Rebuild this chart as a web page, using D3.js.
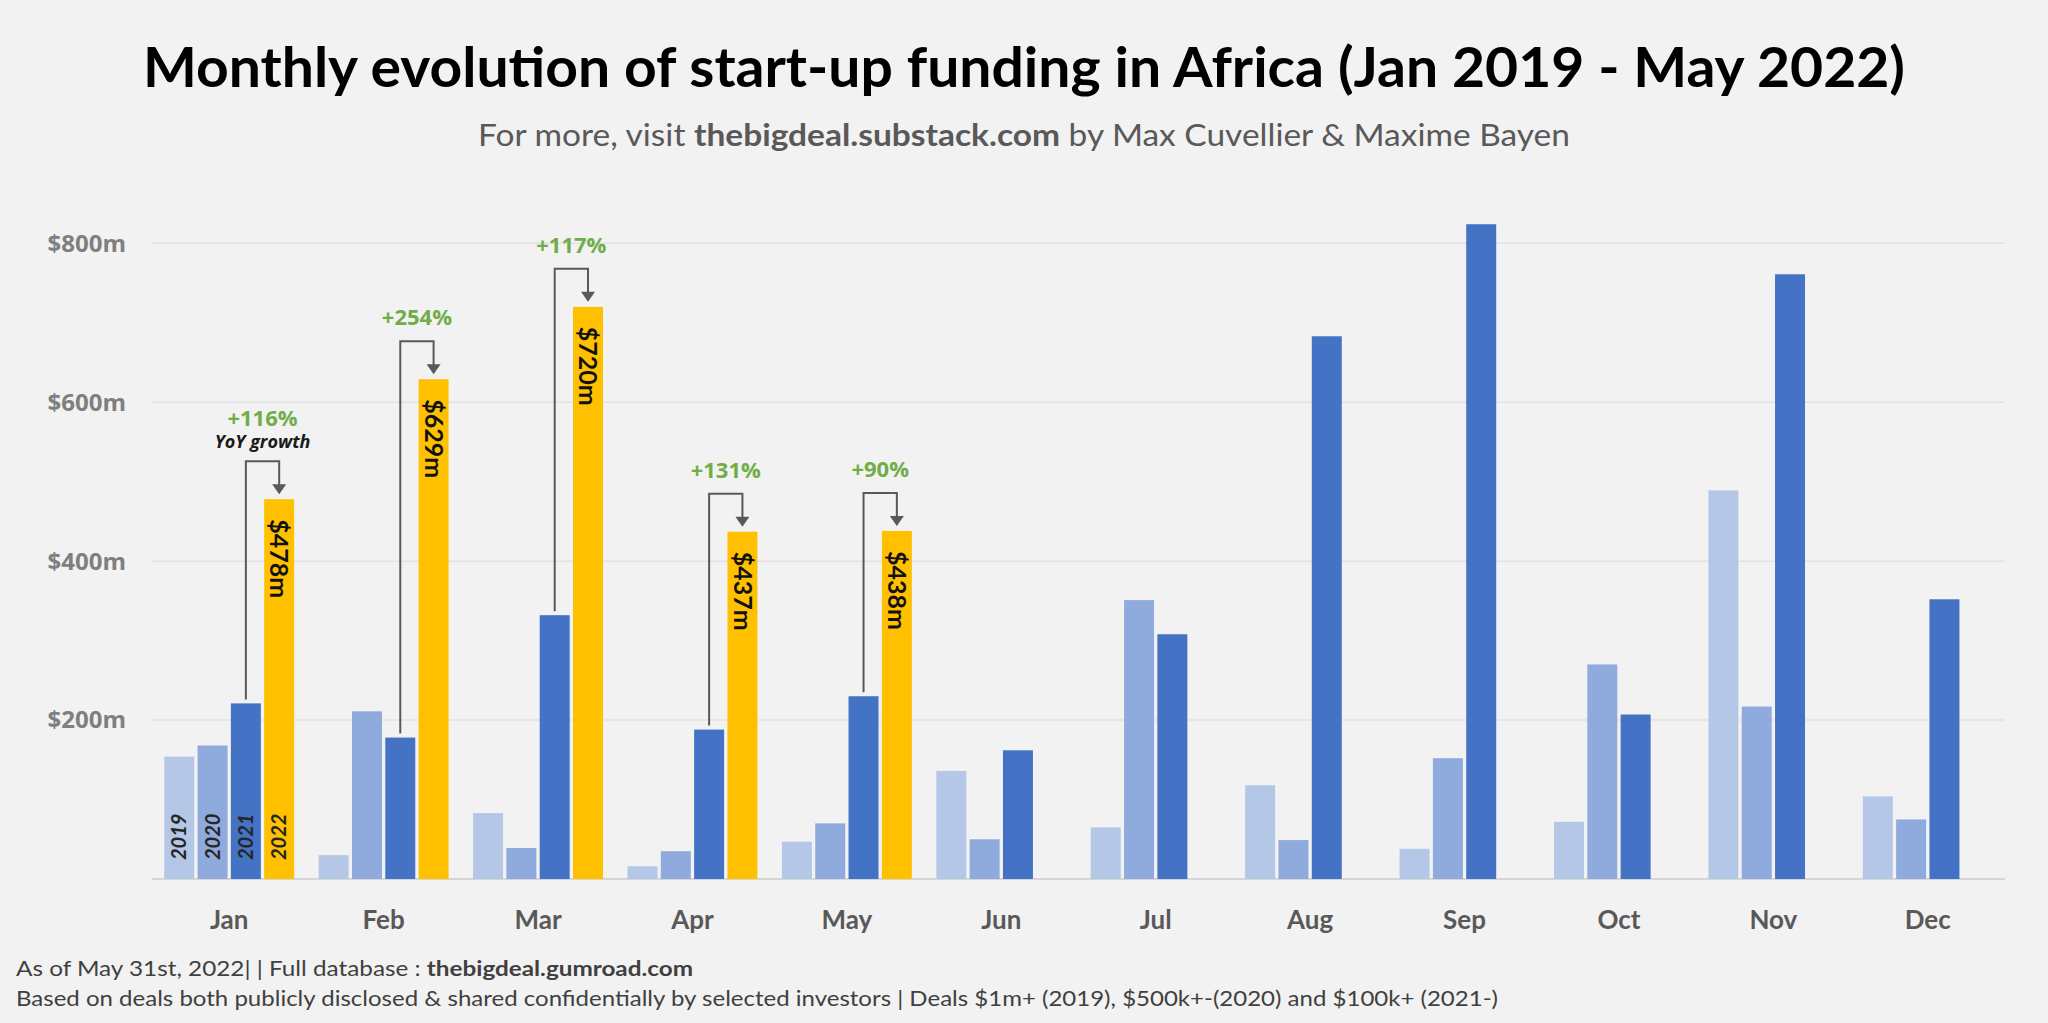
<!DOCTYPE html>
<html>
<head>
<meta charset="utf-8">
<script src="https://cdn.jsdelivr.net/npm/d3@7"></script>
<style>
  html, body { margin: 0; padding: 0; background: #f2f2f2; }
  svg { display: block; }
  text { font-family: Lato, "Open Sans", "Noto Sans", sans-serif; }
  text.os { font-family: "Open Sans", "Noto Sans", sans-serif; }
</style>
</head>
<body>
<svg id="chart" width="2048" height="1023"></svg>
<script>
// ---------- DATA ----------
const months = ["Jan","Feb","Mar","Apr","May","Jun","Jul","Aug","Sep","Oct","Nov","Dec"];
const years = ["2019","2020","2021","2022"];
const funding2019 = [154, 30, 83, 16, 47, 136, 65, 118, 38, 72, 489, 104];
const funding2020 = [168, 211, 39, 35, 70, 50, 351, 49, 152, 270, 217, 75];
const funding2021 = [221, 178, 332, 188, 230, 162, 308, 683, 824, 207, 761, 352];
const funding2022 = [478, 629, 720, 437, 438, null, null, null, null, null, null, null];
const valueLabels2022 = ["$478m", "$629m", "$720m", "$437m", "$438m"];
const growthLabels = ["+116%", "+254%", "+117%", "+131%", "+90%"];
const yTicks = [200, 400, 600, 800];
const yTickLabels = ["$200m", "$400m", "$600m", "$800m"];

const seriesByYear = { "2019": funding2019, "2020": funding2020, "2021": funding2021, "2022": funding2022 };
const colors = { "2019": "#b4c7e7", "2020": "#8faadc", "2021": "#4472c4", "2022": "#ffc000" };

// ---------- SETUP ----------
const svg = d3.select("#chart");
svg.append("rect").attr("width", 2048).attr("height", 1023).attr("fill", "#f2f2f2");

const x = d3.scaleBand().domain(months).range([152, 2005]).paddingInner(0.137).paddingOuter(0.0685);
const xi = d3.scaleBand().domain(years).range([0, x.bandwidth()]).paddingInner(0.1).paddingOuter(0.05);
const y = d3.scaleLinear().domain([0, 800]).range([879, 243.3]);

// ---------- TITLE ----------
const title = svg.append("text")
  .attr("x", 1024).attr("y", 87).attr("text-anchor", "middle")
  .attr("font-size", 55).attr("font-weight", 700).attr("fill", "#000")
  .text("Monthly evolution of start-up funding in Africa (Jan 2019 - May 2022)");
title.attr("textLength", 1762).attr("lengthAdjust", "spacingAndGlyphs");

const sub = svg.append("text")
  .attr("x", 1024).attr("y", 146).attr("text-anchor", "middle")
  .attr("font-size", 31).attr("fill", "#595959");
sub.append("tspan").text("For more, visit ");
sub.append("tspan").attr("font-weight", 700).text("thebigdeal.substack.com");
sub.append("tspan").text(" by Max Cuvellier & Maxime Bayen");
sub.attr("textLength", 1092).attr("lengthAdjust", "spacingAndGlyphs");

// ---------- GRID ----------
const gridG = svg.append("g");
gridG.selectAll("line.grid").data(yTicks).join("line")
  .attr("class", "grid")
  .attr("x1", 152).attr("x2", 2005)
  .attr("y1", d => y(d)).attr("y2", d => y(d))
  .attr("stroke", "#e2e2e2").attr("stroke-width", 1.5);

gridG.append("line")
  .attr("x1", 152).attr("x2", 2005).attr("y1", y(0)).attr("y2", y(0))
  .attr("stroke", "#d6d6d6").attr("stroke-width", 2);

// y labels
svg.append("g").selectAll("text").data(yTicks).join("text")
  .attr("class", "os")
  .attr("x", 126).attr("y", d => y(d)).attr("dy", "0.35em")
  .attr("text-anchor", "end").attr("font-size", 24).attr("font-weight", 700)
  .attr("fill", "#7f7f7f")
  .text((d, i) => yTickLabels[i]);

// month labels
svg.append("g").selectAll("text").data(months).join("text")
  .attr("x", d => x(d) + x.bandwidth() / 2).attr("y", 929)
  .attr("text-anchor", "middle").attr("font-size", 26).attr("font-weight", 700)
  .attr("fill", "#595959")
  .text(d => d);

// ---------- BARS ----------
const barsData = [];
months.forEach((m, i) => {
  years.forEach(yr => {
    const v = seriesByYear[yr][i];
    if (v !== null && v !== undefined) barsData.push({ month: m, idx: i, year: yr, value: v });
  });
});

svg.append("g").selectAll("rect").data(barsData).join("rect")
  .attr("x", d => x(d.month) + xi(d.year))
  .attr("y", d => y(d.value))
  .attr("width", xi.bandwidth())
  .attr("height", d => y(0) - y(d.value))
  .attr("fill", d => colors[d.year]);

// year labels inside January bars
svg.append("g").selectAll("text").data(years).join("text")
  .attr("transform", d => `translate(${x("Jan") + xi(d) + xi.bandwidth() / 2},${y(0) - 19}) rotate(-90)`)
  .attr("text-anchor", "start").attr("dy", "0.35em")
  .attr("font-size", 20).attr("font-weight", 700).attr("font-style", "italic")
  .attr("fill", "#262626")
  .text(d => d);

// 2022 value labels
const annMonths = months.slice(0, 5);
svg.append("g").selectAll("text").data(annMonths).join("text")
  .attr("transform", (m, i) => `translate(${x(m) + xi("2022") + xi.bandwidth() / 2},${y(funding2022[i]) + 20}) rotate(90)`)
  .attr("text-anchor", "start").attr("dy", "0.35em")
  .attr("font-size", 25).attr("font-weight", 700).attr("fill", "#111")
  .text((m, i) => valueLabels2022[i]);

// ---------- GROWTH ANNOTATIONS ----------
const annG = svg.append("g");
annMonths.forEach((m, i) => {
  const x1 = x(m) + xi("2021") + xi.bandwidth() / 2;
  const x2 = x(m) + xi("2022") + xi.bandwidth() / 2;
  const top22 = y(funding2022[i]);
  const top21 = y(funding2021[i]);
  const yTop = top22 - 38;
  annG.append("path")
    .attr("d", `M${x1},${top21 - 4}V${yTop}H${x2}V${top22 - 14}`)
    .attr("fill", "none").attr("stroke", "#595959").attr("stroke-width", 2);
  annG.append("path")
    .attr("d", `M${x2 - 7},${top22 - 15}L${x2 + 7},${top22 - 15}L${x2},${top22 - 5}Z`)
    .attr("fill", "#595959");
  const cx = (x1 + x2) / 2;
  if (i === 0) {
    annG.append("text").attr("class", "os").attr("x", cx).attr("y", yTop - 13).attr("text-anchor", "middle")
      .attr("font-size", 18).attr("font-weight", 700).attr("font-style", "italic").attr("fill", "#1a1a1a")
      .text("YoY growth");
    annG.append("text").attr("class", "os").attr("x", cx).attr("y", yTop - 35).attr("text-anchor", "middle")
      .attr("font-size", 22).attr("font-weight", 700).attr("fill", "#70ad47")
      .text(growthLabels[i]);
  } else {
    annG.append("text").attr("class", "os").attr("x", cx).attr("y", yTop - 16).attr("text-anchor", "middle")
      .attr("font-size", 22).attr("font-weight", 700).attr("fill", "#70ad47")
      .text(growthLabels[i]);
  }
});

// ---------- FOOTER ----------
const f1 = svg.append("text").attr("x", 16).attr("y", 976).attr("font-size", 21).attr("fill", "#404040");
f1.append("tspan").text("As of May 31st, 2022| | Full database : ");
f1.append("tspan").attr("font-weight", 700).text("thebigdeal.gumroad.com");
f1.attr("textLength", 677).attr("lengthAdjust", "spacingAndGlyphs");

const f2 = svg.append("text").attr("x", 16).attr("y", 1006).attr("font-size", 21).attr("fill", "#404040")
  .text("Based on deals both publicly disclosed & shared confidentially by selected investors | Deals $1m+ (2019), $500k+-(2020) and $100k+ (2021-)");
f2.attr("textLength", 1482).attr("lengthAdjust", "spacingAndGlyphs");
</script>
</body>
</html>
